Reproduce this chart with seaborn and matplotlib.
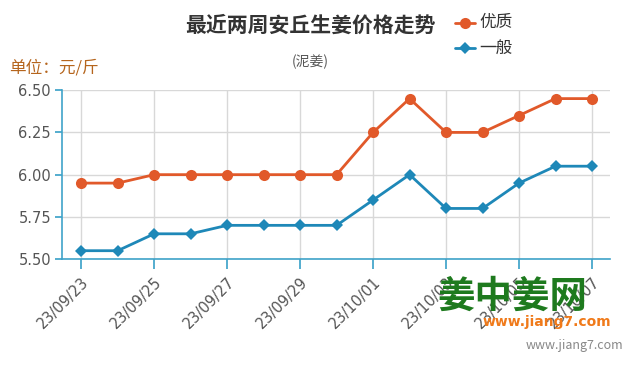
import numpy as np
import pandas as pd
import seaborn as sns
import matplotlib.pyplot as plt

# ===============================
# Data
# ===============================
DATES = ["23/09/23", "23/09/24", "23/09/25", "23/09/26", "23/09/27", "23/09/28",
         "23/09/29", "23/09/30", "23/10/01", "23/10/02", "23/10/03", "23/10/04",
         "23/10/05", "23/10/06", "23/10/07"]
YOUZHI = [5.95, 5.95, 6.00, 6.00, 6.00, 6.00, 6.00, 6.00, 6.25, 6.45, 6.25, 6.25, 6.35, 6.45, 6.45]
YIBAN = [5.55, 5.55, 5.65, 5.65, 5.70, 5.70, 5.70, 5.70, 5.85, 6.00, 5.80, 5.80, 5.95, 6.05, 6.05]
SERIES = ["优质", "一般"]
Y_TICKS = [5.50, 5.75, 6.00, 6.25, 6.50]

ORANGE = "#e1592a"
BLUE = "#1e88b8"
AXIS_BLUE = "#3fa3c9"

df = pd.DataFrame({
    "idx": list(range(len(DATES))) * 2,
    "price": YOUZHI + YIBAN,
    "grade": [SERIES[0]] * len(DATES) + [SERIES[1]] * len(DATES),
})

sns.set_theme(style="white")
plt.rcParams["font.family"] = ["Noto Sans CJK SC", "DejaVu Sans"]

fig = plt.figure(figsize=(6.35, 3.65), dpi=100)
ax = fig.add_axes([0.098, 0.290, 0.863, 0.463])

sns.lineplot(data=df, x="idx", y="price", hue="grade", style="grade",
             palette={SERIES[0]: ORANGE, SERIES[1]: BLUE},
             markers={SERIES[0]: "o", SERIES[1]: "D"}, dashes=False,
             linewidth=2, ax=ax, legend=False)
for line, ms in zip(ax.lines, [8, 6]):
    line.set_markersize(ms)
    line.set_markeredgewidth(0)

ax.set_xlim(-0.52, 14.5)
ax.set_ylim(5.5, 6.5)
ax.set_yticks(Y_TICKS)
ax.set_yticklabels([f"{v:.2f}" for v in Y_TICKS], fontsize=10.5, color="#555555",
                   family="DejaVu Sans")
ax.set_xticks(range(0, len(DATES), 2))
ax.set_xticklabels(DATES[::2], rotation=45, ha="right", rotation_mode="anchor",
                   fontsize=10.5, color="#555555", family="DejaVu Sans")
ax.set_xlabel("")
ax.set_ylabel("")

ax.grid(True, color="#d8d8d8", linewidth=1)
ax.set_axisbelow(True)
for side in ["top", "right"]:
    ax.spines[side].set_visible(False)
for side in ["left", "bottom"]:
    ax.spines[side].set_color(AXIS_BLUE)
    ax.spines[side].set_linewidth(1.2)
ax.tick_params(axis="x", bottom=True, length=7, color=AXIS_BLUE, pad=4)
ax.tick_params(axis="y", left=True, length=5, color=AXIS_BLUE, pad=3)

# legend drawn by hand in figure coordinates
for i, (name, col, mk, ms) in enumerate(zip(SERIES, [ORANGE, BLUE], ["o", "D"], [8, 6])):
    y = 1 - (23 + 25 * i) / 365
    fig.lines.append(plt.Line2D([455 / 635, 475 / 635], [y, y], color=col, lw=2,
                                transform=fig.transFigure))
    fig.lines.append(plt.Line2D([465 / 635], [y], color=col, marker=mk, markersize=ms,
                                markeredgewidth=0, transform=fig.transFigure))
    fig.text(479 / 635, y, name, fontsize=12, color="#333333", va="center", ha="left")

fig.text(310 / 635, 1 - 25 / 365, "最近两周安丘生姜价格走势", fontsize=15, fontweight="bold",
         color="#333333", ha="center", va="center")
fig.text(310 / 635, 1 - 62 / 365, "(泥姜)", fontsize=10, color="#555555",
         ha="center", va="center")
fig.text(9 / 635, 1 - 68 / 365, "单位：元/斤", fontsize=12, color="#b5651d",
         ha="left", va="center")

# watermark
fig.text(437 / 635, 1 - 296 / 365, "姜中姜网", fontsize=27, fontweight="bold",
         color="#1e7a1e", ha="left", va="center")
fig.text(483 / 635, 1 - 322 / 365, "www.jiang7.com", fontsize=10, fontweight="bold",
         color="#f07a1a", ha="left", va="center", family="DejaVu Sans")
fig.text(623 / 635, 1 - 345 / 365, "www.jiang7.com", fontsize=9, color="#888888",
         ha="right", va="center")

fig.savefig("out.png", dpi=100)
